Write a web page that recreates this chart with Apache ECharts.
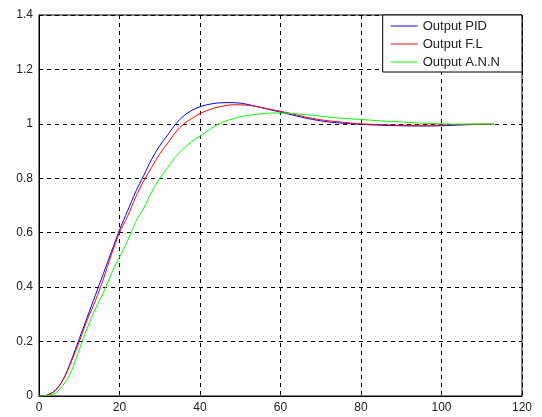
<!DOCTYPE html>
<html>
<head>
<meta charset="utf-8">
<script src="https://cdn.jsdelivr.net/npm/echarts@6/dist/echarts.min.js"></script>
<style>
  html, body { margin: 0; padding: 0; background: #fff; }
  #main { width: 542px; height: 417px; }
</style>
</head>
<body>
<div id="main"></div>
<script>
// 时间轴 (x) 与三条响应曲线
var timeX = [0, 2, 4, 6, 8, 10, 12, 14, 16, 18, 20, 22, 24, 26, 28, 30, 32, 34, 36, 38, 40,
    42, 44, 46, 48, 50, 52, 54, 56, 58, 60, 62, 64, 66, 68, 70, 72, 74, 76, 78, 80,
    85, 90, 95, 100, 105, 110, 113];

var outPID = [0, 0.003, 0.02, 0.06, 0.13, 0.21, 0.29, 0.37, 0.45, 0.53, 0.61, 0.68, 0.75, 0.81, 0.87, 0.92, 0.96, 1.0, 1.03, 1.05, 1.063,
    1.071, 1.076, 1.078, 1.078, 1.076, 1.071, 1.064, 1.057, 1.05, 1.043, 1.036, 1.029, 1.022, 1.016, 1.011, 1.007, 1.004, 1.002, 1.0, 0.998,
    0.995, 0.993, 0.992, 0.993, 0.996, 0.998, 0.998];

var outFL = [0, 0.003, 0.02, 0.06, 0.125, 0.2, 0.28, 0.35, 0.43, 0.52, 0.6, 0.66, 0.73, 0.79, 0.84, 0.89, 0.93, 0.97, 1.0, 1.02, 1.038,
    1.05, 1.06, 1.066, 1.07, 1.07, 1.068, 1.064, 1.058, 1.052, 1.046, 1.04, 1.033, 1.026, 1.02, 1.015, 1.011, 1.008, 1.005, 1.002, 1.0,
    0.997, 0.995, 0.995, 0.996, 0.998, 0.999, 0.999];

var outANN = [0, 0.002, 0.01, 0.04, 0.09, 0.17, 0.25, 0.32, 0.38, 0.45, 0.51, 0.57, 0.64, 0.69, 0.75, 0.8, 0.84, 0.88, 0.91, 0.935, 0.955,
    0.975, 0.995, 1.008, 1.018, 1.026, 1.031, 1.035, 1.038, 1.04, 1.04, 1.039, 1.037, 1.034, 1.031, 1.028, 1.025, 1.022, 1.02, 1.018, 1.016,
    1.011, 1.007, 1.003, 1.0, 0.999, 0.999, 0.999];

var seriesNames = ['Output PID', 'Output F.L', 'Output A.N.N'];
var seriesColors = ['#0000ff', '#ff0000', '#00ff00'];

function pairs(ys) {
    return timeX.map(function (x, i) { return [x, ys[i]]; });
}

var myChart = echarts.init(document.getElementById('main'));

var axisLabelStyle = {
    color: '#222',
    fontSize: 12,
    fontFamily: 'Liberation Sans, Arial, sans-serif'
};
var gridLine = {
    show: true,
    lineStyle: { color: '#000', type: [4, 4], width: 1 }
};

var option = {
    backgroundColor: '#fff',
    animation: false,
    grid: {
        left: 39,
        top: 15,
        right: 20,
        bottom: 21,
        show: true,
        borderColor: '#000',
        borderWidth: 1
    },
    legend: {
        orient: 'vertical',
        right: 20,
        top: 15,
        icon: 'rect',
        itemWidth: 27,
        itemHeight: 1,
        itemGap: 4,
        padding: [4, 22, 3, 8],
        backgroundColor: '#fff',
        borderColor: '#000',
        borderWidth: 1,
        borderRadius: 0,
        textStyle: {
            color: '#222',
            fontSize: 13,
            lineHeight: 14,
            fontFamily: 'Liberation Sans, Arial, sans-serif'
        },
        data: seriesNames
    },
    xAxis: {
        type: 'value',
        min: 0,
        max: 120,
        interval: 20,
        axisLine: { show: true, lineStyle: { color: '#000' } },
        axisTick: { show: false },
        axisLabel: Object.assign({ margin: 6 }, axisLabelStyle),
        splitLine: gridLine
    },
    yAxis: {
        type: 'value',
        min: 0,
        max: 1.4,
        interval: 0.2,
        axisLine: { show: true, lineStyle: { color: '#000' } },
        axisTick: { show: false },
        axisLabel: Object.assign({ margin: 6 }, axisLabelStyle),
        splitLine: gridLine
    },
    series: [outPID, outFL, outANN].map(function (ys, i) {
        return {
            name: seriesNames[i],
            type: 'line',
            smooth: 0.3,
            symbol: 'none',
            color: seriesColors[i],
            lineStyle: { width: 1, color: seriesColors[i] },
            data: pairs(ys)
        };
    })
};

myChart.setOption(option);
</script>
</body>
</html>
